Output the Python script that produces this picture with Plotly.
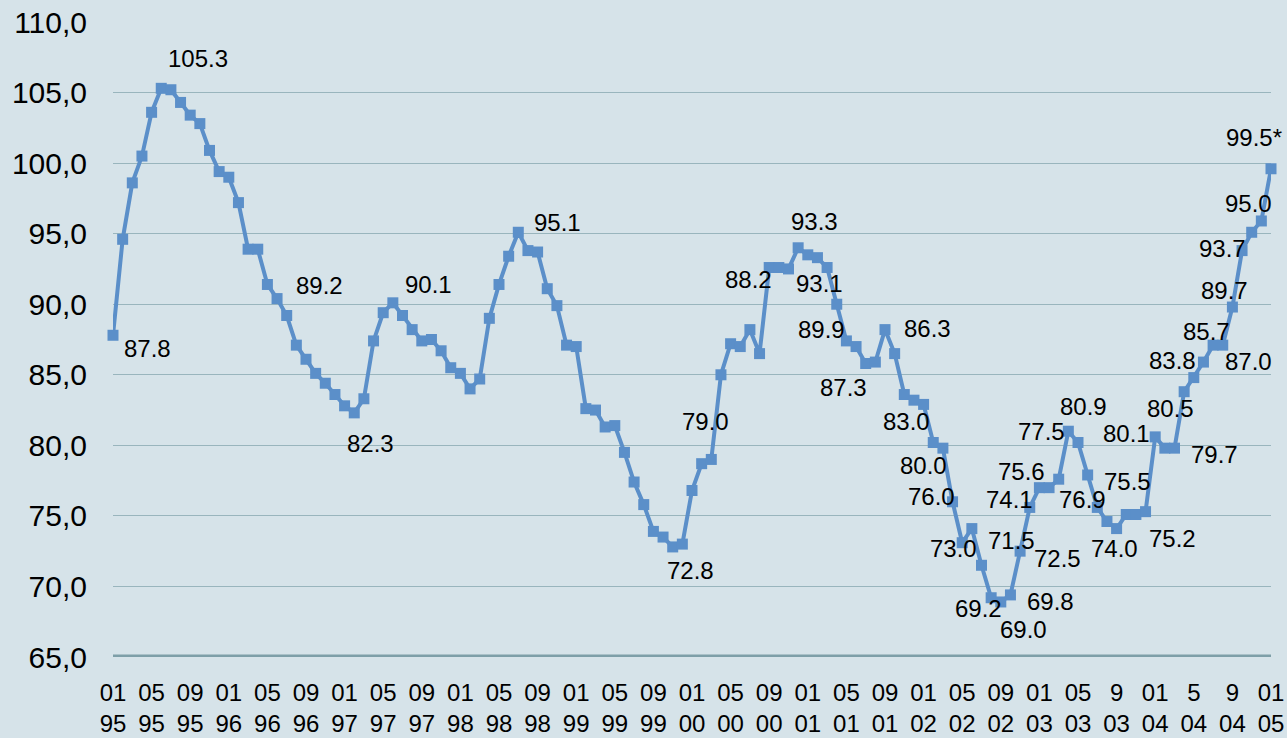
import plotly.graph_objects as go

# ---------------------------------------------------------------------------------------
# DATA
# monthly index, 01/1995 -> 01/2005
values = [
    87.8, 94.6, 98.6, 100.5, 103.6, 105.3, 105.2, 104.3, 103.4, 102.8, 100.9, 99.4,   # 1995
    99.0, 97.2, 93.9, 93.9, 91.4, 90.4, 89.2, 87.1, 86.1, 85.1, 84.4, 83.6,          # 1996
    82.8, 82.3, 83.3, 87.4, 89.4, 90.1, 89.2, 88.2, 87.4, 87.5, 86.7, 85.5,          # 1997
    85.1, 84.0, 84.7, 89.0, 91.4, 93.4, 95.1, 93.8, 93.7, 91.1, 89.9, 87.1,          # 1998
    87.0, 82.6, 82.5, 81.3, 81.4, 79.5, 77.4, 75.8, 73.9, 73.5, 72.8, 73.0,          # 1999
    76.8, 78.7, 79.0, 85.0, 87.2, 87.0, 88.2, 86.5, 92.6, 92.6, 92.5, 94.0,          # 2000
    93.5, 93.3, 92.6, 90.0, 87.4, 87.0, 85.8, 85.9, 88.2, 86.5, 83.6, 83.2,          # 2001
    82.9, 80.2, 79.8, 76.0, 73.1, 74.1, 71.5, 69.2, 68.9, 69.4, 72.5, 75.6,          # 2002
    77.0, 77.0, 77.6, 81.0, 80.2, 77.9, 75.6, 74.6, 74.1, 75.1, 75.1, 75.3,          # 2003
    80.6, 79.8, 79.8, 83.8, 84.8, 85.9, 87.1, 87.1, 89.8, 93.8, 95.1, 95.9,          # 2004
    99.6,                                                                            # 2005
]
months = list(range(len(values)))

# x tick labels (every 4 months)
tick_months = ["01", "05", "09"] * 8 + ["01", "05", "9", "01", "5", "9", "01"]
tick_years = ["95"] * 3 + ["96"] * 3 + ["97"] * 3 + ["98"] * 3 + ["99"] * 3 + \
             ["00"] * 3 + ["01"] * 3 + ["02"] * 3 + ["03"] * 3 + ["04"] * 3 + ["05"]

# y tick labels
y_ticks = [65, 70, 75, 80, 85, 90, 95, 100, 105, 110]
y_labels = ["65,0", "70,0", "75,0", "80,0", "85,0", "90,0", "95,0", "100,0", "105,0", "110,0"]

# data labels: (month index, text)
labels = [
    (0, "87.8"), (5, "105.3"), (18, "89.2"), (25, "82.3"), (29, "90.1"), (42, "95.1"),
    (58, "72.8"), (62, "79.0"), (66, "88.2"), (71, "93.3"), (73, "93.1"), (75, "89.9"),
    (76, "87.3"), (81, "86.3"), (84, "83.0"), (86, "80.0"), (87, "76.0"), (88, "73.0"),
    (89, "74.1"), (90, "71.5"), (91, "69.2"), (92, "69.0"), (93, "69.8"), (94, "72.5"),
    (95, "75.6"), (98, "77.5"), (99, "80.9"), (101, "76.9"), (102, "75.5"), (104, "74.0"),
    (107, "75.2"), (108, "80.1"), (109, "80.5"), (110, "79.7"), (111, "83.8"), (113, "85.7"),
    (115, "87.0"), (116, "89.7"), (117, "93.7"), (118, "95.0"), (120, "99.5*"),
]
# label offsets from their point, in px (dx right, dy up)
label_shift = [
    (34, -13), (37, 30), (33, 30), (16, -31), (36, 18), (39, 10),
    (18, -24), (-6, 38), (-1, 50), (16, 26), (2, -26), (-15, -25),
    (-3, -47), (33, 25), (-17, -17), (-19, -17), (-21, 5), (-9, -6),
    (38, 29), (30, 25), (-13, -11), (23, -28), (40, -7), (37, -7),
    (-8, 36), (-17, 48), (15, 25), (-5, -25), (30, 26), (-2, -20),
    (27, -27), (-29, 3), (6, 40), (40, -6), (-12, 31), (3, 31),
    (26, -16), (-8, 17), (-20, 2), (-3, 29), (-17, 31),
]

# ---------------------------------------------------------------------------------------
# STYLE
bg = "#d6e3e9"
blue = "#5b8fc9"
grid = "#99b5bd"
base = "#7e9fa8"
font = "Liberation Sans, Arial, sans-serif"

# ---------------------------------------------------------------------------------------
# GRAPH
fig = go.Figure()
fig.add_trace(go.Scatter(x=months, y=values, mode="lines+markers",
                         line=dict(color=blue, width=4),
                         marker=dict(symbol="square", size=11, color=blue),
                         cliponaxis=False, showlegend=False, hoverinfo="x+y"))

for (i, txt), (dx, dy) in zip(labels, label_shift):
    fig.add_annotation(x=months[i], y=values[i], text=txt, showarrow=False,
                       xshift=dx, yshift=dy, font=dict(size=24, color="#000000", family=font))

# thick base line at 65
fig.add_shape(type="line", xref="x", yref="y", x0=-0.2, x1=120.2, y0=65, y1=65,
              line=dict(color=base, width=5), layer="above")

fig.update_xaxes(range=[0, 120], tickmode="array", tickvals=months[::4],
                 ticktext=[m + "<br>" + y for m, y in zip(tick_months, tick_years)],
                 showgrid=False, zeroline=False, showline=False, ticks="", automargin=False,
                 ticklabelstandoff=19, tickfont=dict(size=24, color="#000000", family=font))
fig.update_yaxes(range=[65, 110], tickmode="array", tickvals=y_ticks, ticktext=y_labels,
                 showgrid=True, gridcolor=grid, gridwidth=1, zeroline=False, showline=False,
                 ticks="", automargin=False,
                 ticklabelstandoff=25, tickfont=dict(size=30, color="#000000", family=font))

fig.update_layout(width=1287, height=738, paper_bgcolor=bg, plot_bgcolor=bg,
                  margin=dict(l=113, r=16, t=22, b=81), font=dict(family=font),
                  showlegend=False)

# no white page border round the figure, no modebar
fig.write_html("out.html", config={"displayModeBar": False},
               post_script="document.body.style.margin='0px';document.body.style.background='%s';" % bg)
